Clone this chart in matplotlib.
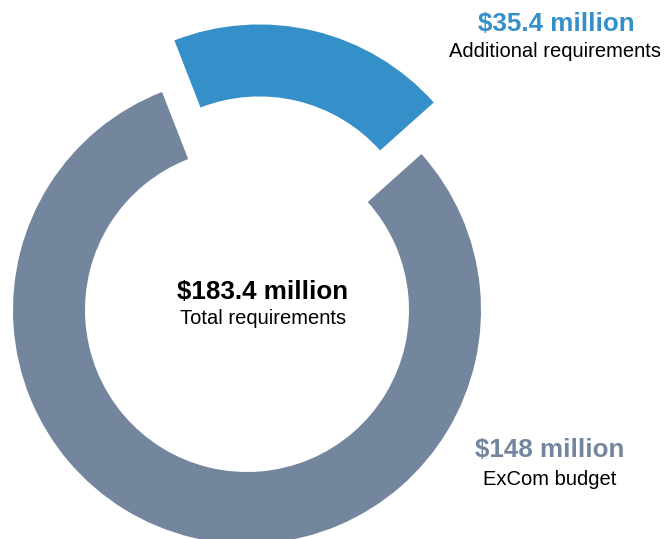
import matplotlib.pyplot as plt

labels = ["Additional requirements", "ExCom budget"]
values = [35.4, 148.0]
colors = ["#3590ca", "#74869e"]
total_label = "Total requirements"

W, H = 667, 539
plt.rcParams["font.family"] = ["Liberation Sans", "DejaVu Sans"]

fig = plt.figure(figsize=(W / 100, H / 100), dpi=100)
ax = fig.add_axes([0, 0, 1, 1])
ax.set_xlim(0, W)
ax.set_ylim(0, H)
ax.set_aspect("equal")
ax.axis("off")

# ring in pixel units, y measured from bottom
ax.pie(
    values,
    colors=colors,
    center=(247, H - 310),
    radius=234,
    startangle=41.8,
    counterclock=True,
    explode=[53, 0],
    wedgeprops=dict(width=72, linewidth=0),
    frame=True,
)
ax.set_xlim(0, W)
ax.set_ylim(0, H)
ax.axis("off")


def put(x, y, s, **kw):
    fig.text(x / W, 1 - y / H, s, ha="center", va="baseline", **kw)


total = sum(values)
put(263, 299, f"${total:g} million", fontsize=18.7, fontweight="bold", color="black")
put(263, 324, total_label, fontsize=14.5, color="black")

put(556, 31, f"${values[0]:g} million", fontsize=18.7, fontweight="bold", color=colors[0])
put(555, 57, labels[0], fontsize=14.5, color="black")

put(550, 457, f"${values[1]:g} million", fontsize=18.7, fontweight="bold", color=colors[1])
put(550, 485, labels[1], fontsize=14.5, color="black")

fig.savefig("out.png", dpi=100, facecolor="white")
